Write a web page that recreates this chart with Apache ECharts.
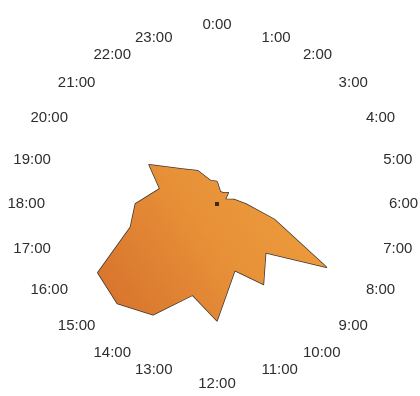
<!DOCTYPE html>
<html>
<head>
<meta charset="utf-8">
<script src="https://cdn.jsdelivr.net/npm/echarts@6/dist/echarts.min.js"></script>
<style>
  html, body { margin: 0; padding: 0; background: #fff; }
  #chart { width: 420px; height: 396px; }
</style>
</head>
<body>
<div id="chart"></div>
<script>
// hours around the clock, clockwise from the top
const hours = ['0:00', '1:00', '2:00', '3:00', '4:00', '5:00', '6:00', '7:00',
  '8:00', '9:00', '10:00', '11:00', '12:00', '13:00', '14:00', '15:00',
  '16:00', '17:00', '18:00', '19:00', '20:00', '21:00', '22:00', '23:00'];
// activity per hour (0-100)
const activity = [14, 8, 8, 10, 6, 11, 18, 37, 79, 43, 58, 43,
  73, 59, 80, 88, 86, 56, 51, 37, 49, 31, 24, 15];

// radar runs counter-clockwise, so feed it 0, 23, 22 ... 1
const flip = arr => [arr[0]].concat(arr.slice(1).reverse());
const axisNames = flip(hours);
const values = flip(activity);
const origin = hours.map(() => 0);

const chart = echarts.init(document.getElementById('chart'));
chart.setOption({
  animation: false,
  radar: {
    center: [217, 204],
    radius: 160,
    startAngle: 90,
    indicator: axisNames.map(h => ({ name: h, max: 100, min: 0 })),
    shape: 'polygon',
    splitNumber: 1,
    nameGap: 12,
    axisName: {
      color: '#2e2e2e',
      fontSize: 15,
      fontFamily: 'Liberation Sans, Arial, sans-serif'
    },
    axisLine: { show: false },
    splitLine: { show: false },
    splitArea: { show: false },
    axisTick: { show: false },
    axisLabel: { show: false }
  },
  series: [{
    type: 'radar',
    symbol: 'none',
    lineStyle: { color: '#3b3630', width: 1.5 },
    areaStyle: {
      opacity: 1,
      color: new echarts.graphic.LinearGradient(1, 0, 0, 1, [
        { offset: 0, color: '#eea03e' },
        { offset: 0.5, color: '#e79038' },
        { offset: 1, color: '#d5702b' }
      ])
    },
    data: [{ value: values }]
  }, {
    type: 'radar',
    symbol: 'circle',
    symbolSize: 3.5,
    itemStyle: { color: '#3a2a1a' },
    lineStyle: { width: 0 },
    data: [{ value: origin }]
  }]
});
</script>
</body>
</html>
